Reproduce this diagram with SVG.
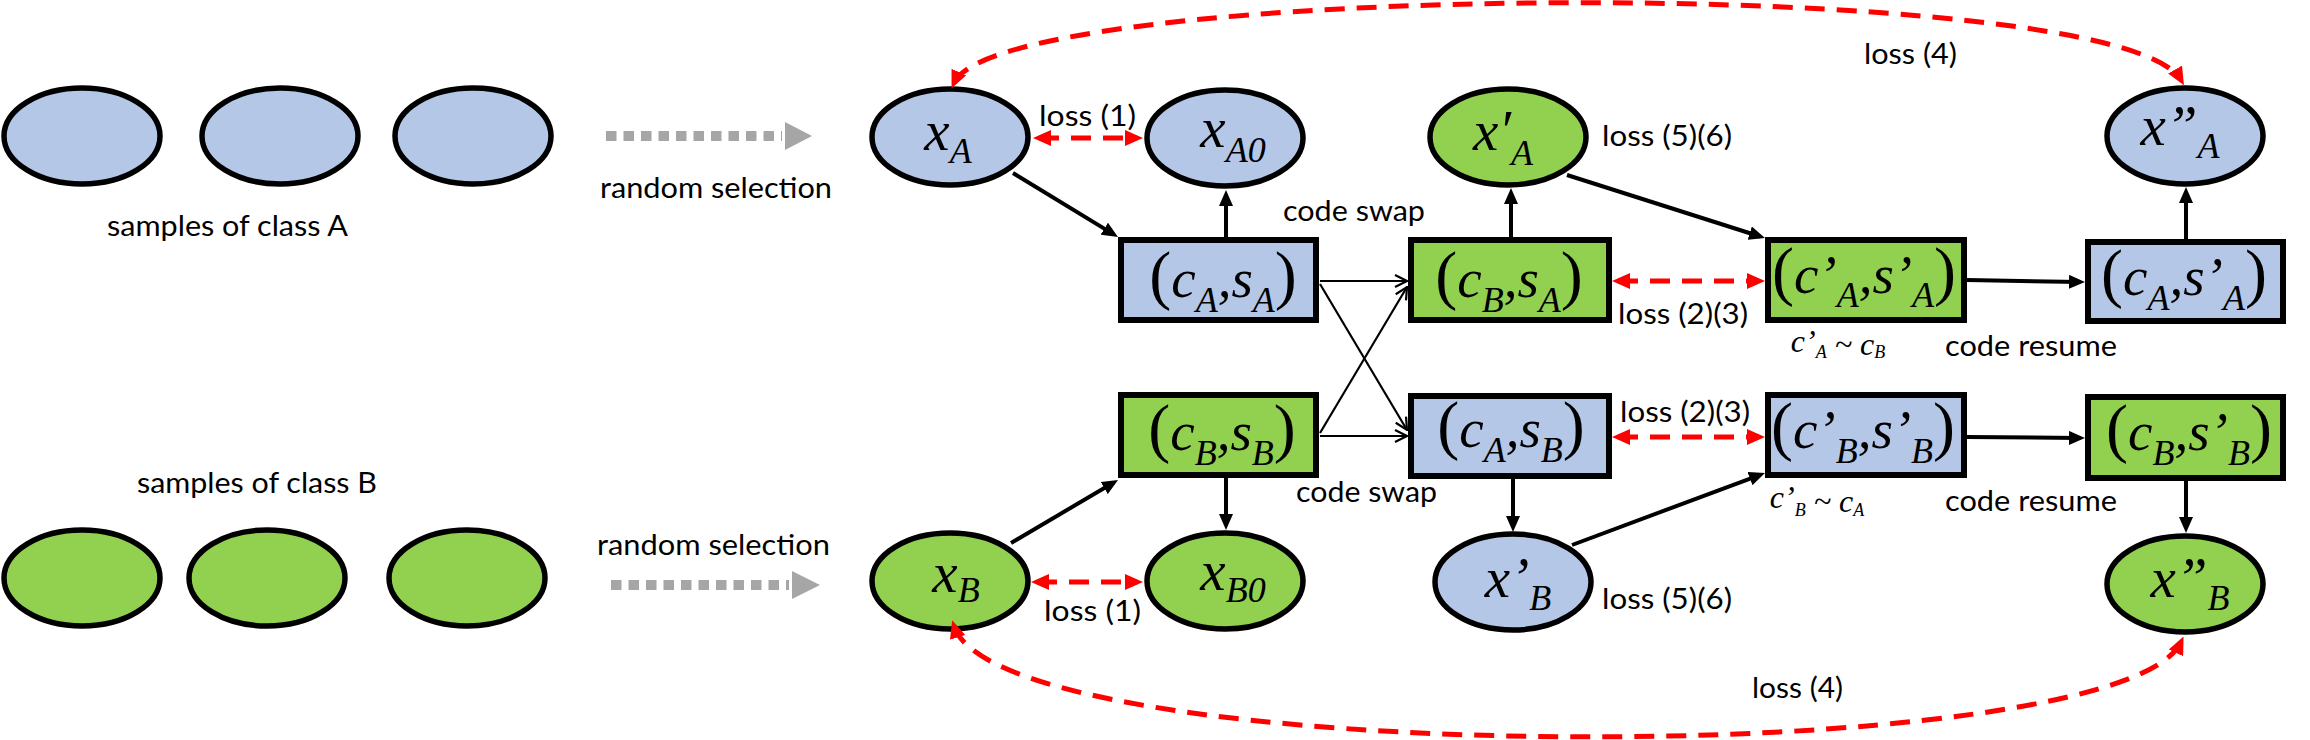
<svg xmlns="http://www.w3.org/2000/svg" width="2310" height="740" viewBox="0 0 2310 740">
<defs>
<style>
.bl{fill:#b4c7e7}
.gr{fill:#92d050}
.nd{stroke:#000;stroke-width:5.5}
.bx{stroke:#000;stroke-width:6}
.t{font-family:Lato,"Open Sans","Liberation Sans",sans-serif;font-size:29px;fill:#000}
.mt{font-family:"Liberation Serif","Times New Roman","DejaVu Serif",serif;font-style:italic;fill:#000;text-anchor:middle}
.n{font-size:57px}
.b{font-size:55px}
.sb{font-size:36px}
.pr{font-style:normal;font-size:66px}
.sm{font-size:32px}
.ss{font-size:18px}
.ar{fill:none;stroke:#000;stroke-width:4;marker-end:url(#ah)}
.th{fill:none;stroke:#000;stroke-width:2.2;marker-end:url(#ch)}
.rd{fill:none;stroke:#ff0000;stroke-width:5;stroke-dasharray:20 12;marker-start:url(#rh);marker-end:url(#rh)}
.gy{fill:none;stroke:#a6a6a6;stroke-width:10;stroke-dasharray:10.5 7}
</style>
<marker id="ah" viewBox="0 0 16 14" refX="11" refY="7" markerWidth="16" markerHeight="14" markerUnits="userSpaceOnUse" orient="auto"><path d="M0,0 L16,7 L0,14 z" fill="#000"/></marker>
<marker id="ch" viewBox="0 0 14 14" refX="13" refY="7" markerWidth="14" markerHeight="14" markerUnits="userSpaceOnUse" orient="auto"><path d="M1,1 L13,7 L1,13" fill="none" stroke="#000" stroke-width="2.2"/></marker>
<marker id="rh" viewBox="0 0 18 16" refX="12" refY="8" markerWidth="18" markerHeight="16" markerUnits="userSpaceOnUse" orient="auto-start-reverse"><path d="M0,0 L18,8 L0,16 z" fill="#ff0000"/></marker>
</defs>

<g id="samplesA">
<ellipse class="bl nd" cx="82" cy="136" rx="78" ry="48"/>
<ellipse class="bl nd" cx="280" cy="136" rx="78" ry="48"/>
<ellipse class="bl nd" cx="473" cy="136" rx="78" ry="48"/>
<text class="t" x="107" y="236" textLength="241" lengthAdjust="spacingAndGlyphs">samples of class A</text>
</g>
<g id="samplesB">
<ellipse class="gr nd" cx="82" cy="578" rx="78" ry="48"/>
<ellipse class="gr nd" cx="267" cy="578" rx="78" ry="48"/>
<ellipse class="gr nd" cx="467" cy="578" rx="78" ry="48"/>
<text class="t" x="137" y="493" textLength="240" lengthAdjust="spacingAndGlyphs">samples of class B</text>
</g>

<g id="selectA">
<line class="gy" x1="606" y1="136" x2="782" y2="136"/>
<polygon points="785,122 812,136 785,150" fill="#a6a6a6"/>
<text class="t" x="600" y="198" textLength="232" lengthAdjust="spacingAndGlyphs">random selection</text>
</g>
<g id="selectB">
<line class="gy" x1="611" y1="585" x2="789" y2="585"/>
<polygon points="792,571 820,585 792,599" fill="#a6a6a6"/>
<text class="t" x="597" y="555" textLength="233" lengthAdjust="spacingAndGlyphs">random selection</text>
</g>

<g id="xA"><ellipse class="bl nd" cx="950" cy="137" rx="78" ry="48"/>
<text class="mt n" x="948" y="150">x<tspan class="sb" dy="13">A</tspan></text></g>
<g id="xA0"><ellipse class="bl nd" cx="1225" cy="138" rx="78" ry="48"/>
<text class="mt n" x="1233" y="147">x<tspan class="sb" dy="15">A0</tspan></text></g>
<g id="xpA"><ellipse class="gr nd" cx="1508" cy="137" rx="78" ry="48"/>
<text class="mt n" x="1503" y="150">x′<tspan class="sb" dy="15">A</tspan></text></g>
<g id="xppA"><ellipse class="bl nd" cx="2185" cy="136" rx="78" ry="48"/>
<text class="mt n" x="2180" y="145">x”<tspan class="sb" dy="13">A</tspan></text></g>

<g id="xB"><ellipse class="gr nd" cx="950" cy="581" rx="78" ry="48"/>
<text class="mt n" x="956" y="592">x<tspan class="sb" dy="10">B</tspan></text></g>
<g id="xB0"><ellipse class="gr nd" cx="1225" cy="581" rx="78" ry="48"/>
<text class="mt n" x="1233" y="590">x<tspan class="sb" dy="12">B0</tspan></text></g>
<g id="xpB"><ellipse class="bl nd" cx="1513" cy="582" rx="78" ry="48"/>
<text class="mt n" x="1518" y="597">x’<tspan class="sb" dy="13">B</tspan></text></g>
<g id="xppB"><ellipse class="gr nd" cx="2185" cy="584" rx="78" ry="48"/>
<text class="mt n" x="2190" y="597">x”<tspan class="sb" dy="13">B</tspan></text></g>

<g id="cAsA"><rect class="bl bx" x="1121" y="240" width="195" height="80"/>
<text class="mt b" x="1223" y="297"><tspan class="pr">(</tspan>c<tspan class="sb" dy="15">A</tspan><tspan dy="-15">,</tspan>s<tspan class="sb" dy="15">A</tspan><tspan class="pr" dy="-15">)</tspan></text></g>
<g id="cBsA"><rect class="gr bx" x="1411" y="240" width="198" height="80"/>
<text class="mt b" x="1509" y="297"><tspan class="pr">(</tspan>c<tspan class="sb" dy="15">B</tspan><tspan dy="-15">,</tspan>s<tspan class="sb" dy="15">A</tspan><tspan class="pr" dy="-15">)</tspan></text></g>
<g id="cpAspA"><rect class="gr bx" x="1768" y="240" width="196" height="80"/>
<text class="mt b" x="1864" y="293"><tspan class="pr">(</tspan>c’<tspan class="sb" dy="14">A</tspan><tspan dy="-14">,</tspan>s’<tspan class="sb" dy="14">A</tspan><tspan class="pr" dy="-14">)</tspan></text></g>
<g id="cAspA"><rect class="bl bx" x="2088" y="242" width="195" height="79"/>
<text class="mt b" x="2184" y="295"><tspan class="pr">(</tspan>c<tspan class="sb" dy="15">A</tspan><tspan dy="-15">,</tspan>s’<tspan class="sb" dy="15">A</tspan><tspan class="pr" dy="-15">)</tspan></text></g>

<g id="cBsB"><rect class="gr bx" x="1121" y="395" width="195" height="80"/>
<text class="mt b" x="1222" y="450"><tspan class="pr">(</tspan>c<tspan class="sb" dy="15">B</tspan><tspan dy="-15">,</tspan>s<tspan class="sb" dy="15">B</tspan><tspan class="pr" dy="-15">)</tspan></text></g>
<g id="cAsB"><rect class="bl bx" x="1411" y="396" width="198" height="80"/>
<text class="mt b" x="1511" y="447"><tspan class="pr">(</tspan>c<tspan class="sb" dy="15">A</tspan><tspan dy="-15">,</tspan>s<tspan class="sb" dy="15">B</tspan><tspan class="pr" dy="-15">)</tspan></text></g>
<g id="cpBspB"><rect class="bl bx" x="1768" y="395" width="196" height="80"/>
<text class="mt b" x="1863" y="448"><tspan class="pr">(</tspan>c’<tspan class="sb" dy="15">B</tspan><tspan dy="-15">,</tspan>s’<tspan class="sb" dy="15">B</tspan><tspan class="pr" dy="-15">)</tspan></text></g>
<g id="cBspB"><rect class="gr bx" x="2088" y="397" width="195" height="81"/>
<text class="mt b" x="2189" y="450"><tspan class="pr">(</tspan>c<tspan class="sb" dy="15">B</tspan><tspan dy="-15">,</tspan>s’<tspan class="sb" dy="15">B</tspan><tspan class="pr" dy="-15">)</tspan></text></g>

<g id="connectors">
<line class="ar" x1="1013" y1="173" x2="1113.7" y2="234.4"/>
<line class="ar" x1="1226" y1="237" x2="1226" y2="195"/>
<line class="ar" x1="1511" y1="237" x2="1511" y2="193"/>
<line class="ar" x1="1567" y1="175" x2="1760.2" y2="236.5"/>
<line class="ar" x1="1967" y1="280" x2="2080" y2="282"/>
<line class="ar" x1="2186" y1="239" x2="2186" y2="192"/>
<line class="ar" x1="1011" y1="543" x2="1113.7" y2="482.5"/>
<line class="ar" x1="1226" y1="478" x2="1226" y2="525"/>
<line class="ar" x1="1513" y1="479" x2="1513" y2="527"/>
<line class="ar" x1="1572" y1="545" x2="1760.3" y2="474.8"/>
<line class="ar" x1="1967" y1="437" x2="2080" y2="438"/>
<line class="ar" x1="2186" y1="481" x2="2186" y2="528"/>
<line class="th" x1="1320" y1="281" x2="1407" y2="281"/>
<line class="th" x1="1320" y1="284" x2="1407" y2="430"/>
<line class="th" x1="1320" y1="433" x2="1407" y2="287"/>
<line class="th" x1="1320" y1="436" x2="1407" y2="436"/>
<line class="rd" x1="1039" y1="138" x2="1137" y2="138"/>
<line class="rd" x1="1037" y1="582" x2="1137" y2="582"/>
<line class="rd" x1="1618" y1="281" x2="1759" y2="281"/>
<line class="rd" x1="1618" y1="437" x2="1759" y2="437"/>
<path class="rd" d="M954,83 C1000,-20 2120,-27 2181,80"/>
<path class="rd" d="M954,626 C1000,770 2120,772 2181,642"/>
</g>

<g id="labels">
<text class="t" x="1039" y="126" textLength="97" lengthAdjust="spacingAndGlyphs">loss (1)</text>
<text class="t" x="1044" y="621" textLength="97" lengthAdjust="spacingAndGlyphs">loss (1)</text>
<text class="t" x="1283" y="221" textLength="142" lengthAdjust="spacingAndGlyphs">code swap</text>
<text class="t" x="1296" y="502" textLength="141" lengthAdjust="spacingAndGlyphs">code swap</text>
<text class="t" x="1602" y="146" textLength="130" lengthAdjust="spacingAndGlyphs">loss (5)(6)</text>
<text class="t" x="1602" y="609" textLength="130" lengthAdjust="spacingAndGlyphs">loss (5)(6)</text>
<text class="t" x="1864" y="64" textLength="93" lengthAdjust="spacingAndGlyphs">loss (4)</text>
<text class="t" x="1752" y="698" textLength="91" lengthAdjust="spacingAndGlyphs">loss (4)</text>
<text class="t" x="1618" y="324" textLength="130" lengthAdjust="spacingAndGlyphs">loss (2)(3)</text>
<text class="t" x="1620" y="422" textLength="130" lengthAdjust="spacingAndGlyphs">loss (2)(3)</text>
<text class="t" x="1945" y="356" textLength="172" lengthAdjust="spacingAndGlyphs">code resume</text>
<text class="t" x="1945" y="511" textLength="172" lengthAdjust="spacingAndGlyphs">code resume</text>
<text class="mt sm" x="1838" y="352">c’<tspan class="ss" dy="6">A</tspan><tspan dy="-3"> ~ </tspan>c<tspan class="ss" dy="3">B</tspan></text>
<text class="mt sm" x="1817" y="508">c’<tspan class="ss" dy="8">B</tspan><tspan dy="-4"> ~ </tspan>c<tspan class="ss" dy="4">A</tspan></text>
</g>
</svg>
